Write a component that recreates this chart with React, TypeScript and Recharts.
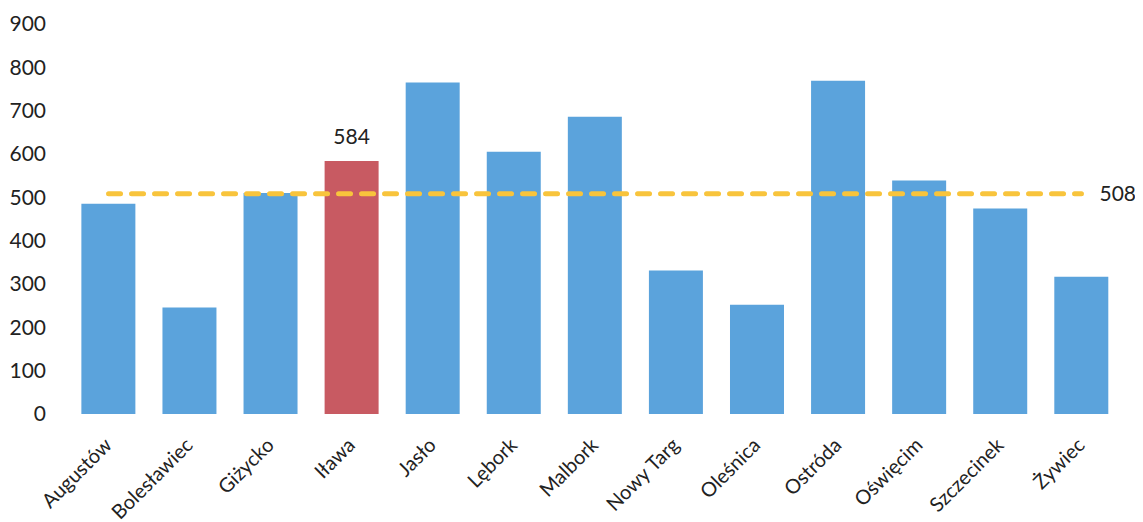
import React from 'react';
import { BarChart, Bar, XAxis, YAxis, Cell, LabelList, ReferenceLine } from 'recharts';

const towns = [
  'Augustów', 'Bolesławiec', 'Giżycko', 'Iława', 'Jasło', 'Lębork', 'Malbork',
  'Nowy Targ', 'Oleśnica', 'Ostróda', 'Oświęcim', 'Szczecinek', 'Żywiec',
];
const values = [485, 246, 510, 584, 765, 605, 686, 331, 252, 769, 539, 474, 317];
const highlighted = 'Iława';
const average = 508;
const yTicks = [0, 100, 200, 300, 400, 500, 600, 700, 800, 900];

const data = towns.map((town, i) => ({ town, value: values[i] }));

const FONT = 'Lato, "Open Sans", sans-serif';

const TownTick = ({ x, y, payload }: any) => (
  <g transform={`translate(${x - 4},${y + 16})`}>
    <text
      x={0}
      y={0}
      dy={12}
      textAnchor="end"
      transform="rotate(-45)"
      fontSize={20}
      fill="#222"
      fontFamily={FONT}
    >
      {payload.value}
    </text>
  </g>
);

const TopLabel = ({ x, y, width, value, index }: any) => {
  if (towns[index] !== highlighted) return null;
  return (
    <text x={x + width / 2} y={y - 17} textAnchor="middle" fontSize={21} fill="#222" fontFamily={FONT}>
      {value}
    </text>
  );
};

export default function App() {
  return (
    <div style={{ width: 1135, height: 514, fontFamily: FONT }}>
      <BarChart
        width={1135}
        height={514}
        data={data}
        margin={{ top: 16, right: 21, bottom: 0, left: 0 }}
        barCategoryGap="16.5%"
      >
        <XAxis
          dataKey="town"
          interval={0}
          height={108}
          axisLine={false}
          tickLine={false}
          tick={<TownTick />}
        />
        <YAxis
          domain={[0, 900]}
          ticks={yTicks}
          width={60}
          axisLine={false}
          tickLine={false}
          tickSize={0}
          tickMargin={22}
          tick={{ fontSize: 21, fill: '#222', fontFamily: FONT }}
        />
        <Bar dataKey="value" isAnimationActive={false}>
          {data.map((d) => (
            <Cell key={d.town} fill={d.town === highlighted ? '#C85A62' : '#5BA3DC'} />
          ))}
          <LabelList dataKey="value" content={<TopLabel />} />
        </Bar>
        <ReferenceLine
          segment={[
            { x: towns[0], y: average },
            { x: towns[towns.length - 1], y: average },
          ]}
          stroke="#F8C43C"
          strokeWidth={5}
          strokeDasharray="12 11"
          strokeLinecap="round"
          label={{ value: String(average), position: 'right', offset: 18, fontSize: 21, fill: '#222', fontFamily: FONT }}
        />
      </BarChart>
    </div>
  );
}
